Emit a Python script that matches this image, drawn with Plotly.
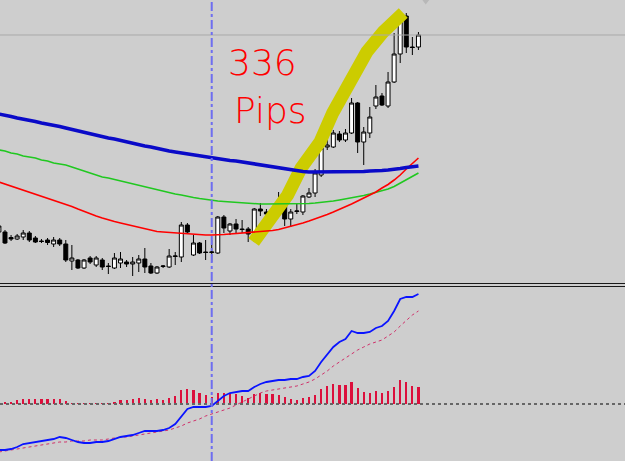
import plotly.graph_objects as go

# ---------------- data ----------------
# candle index -1 .. 68 ; price units: 1 unit ~ 1.5 pips
idx = list(range(-1, 69))

opens = [68, 68, 62.5, 61, 63, 67, 62, 59, 60, 56, 60, 56, 39, 40, 32, 42, 35, 40, 34, 32,
         37, 38, 36, 37, 41, 34, 27, 33.5, 33, 43.5, 43, 75, 45, 57, 48, 47.5, 47, 83, 69, 76,
         71, 71, 67, 91, 88, 86, 87, 95, 81, 88.5, 88, 103, 107, 125, 153, 153, 166, 160, 167, 197,
         158, 167, 194, 204, 194, 218, 246, 284, 253, 253]
closes = [74, 57, 61, 64, 67, 60, 58, 58.5, 57.5, 60, 56, 40, 42, 32, 40, 38, 42, 33, 33.5, 42,
          41, 36, 38, 41, 33, 27, 33, 34, 44, 44, 75, 68, 57, 47, 47.5, 48, 83, 72, 76, 71,
          70.5, 66, 91, 89, 86, 88, 96, 81, 88, 89, 104, 107, 127, 152, 155, 167, 160, 167, 197, 158,
          168, 183, 203, 195, 218, 246, 283, 253, 252.5, 265]
highs = [76, 70, 65, 66, 70, 69, 64, 61, 62, 63, 62, 60, 55, 41, 41, 44, 44, 42, 37, 47,
         48, 40, 43, 45, 52, 37, 34, 35, 51, 48, 78, 77, 65, 58, 60, 60, 84, 85, 77, 81,
         80, 73, 92, 97, 91, 90, 108, 108, 91, 97, 105, 112, 131, 154, 172, 170, 169, 171, 202, 198,
         173, 193, 215, 207, 228, 267, 288, 287, 263, 268]
lows = [66, 56, 59, 60, 60, 58, 57, 57, 55, 53, 54, 38, 30, 31, 31, 36, 33, 30, 26, 31,
        32, 33, 24, 28, 27, 26, 26, 32, 32, 35, 38, 67, 44, 46, 40, 38, 46, 67, 65, 67,
        67, 58, 58, 84, 83, 78, 85, 74, 73, 86, 85, 102, 103, 123, 150, 152, 158, 158, 166, 147,
        135, 162, 191, 194, 192, 217, 237, 247, 245, 250]

ma_blue = [186, 185, 183.5, 182, 181, 180, 178.5, 177, 176, 175, 173.5, 172, 170.5, 169, 167.5, 166,
           165, 163.5, 162, 161, 159.5, 158, 157, 155.5, 154, 153, 151.5, 150.5, 149, 148, 147, 146,
           145, 144, 143, 142.5, 141.5, 140.5, 139.5, 139, 138, 137, 136, 135, 134, 133, 132, 131,
           130, 129, 128.5, 128, 128, 128, 128, 128, 128, 128, 128, 128.5, 128.5, 129, 129, 129.5,
           130, 130.5, 131.5, 132.5, 133.5, 134]
ma_green = [150, 149, 147, 146, 144, 143, 142, 140, 139, 137, 136, 135, 133, 131, 129, 127, 125, 123,
            122, 120.5, 119, 117.5, 116, 115, 113.5, 112, 110.5, 109, 107.5, 106, 105, 103.5, 102.5,
            101.5, 100.5, 99.5, 99, 98.5, 98, 97.5, 97, 96.5, 96, 96, 96, 96, 96, 96, 96, 96, 96,
            96.5, 97, 97.5, 98, 99, 100, 101, 102, 103, 104.5, 106, 107.5, 109, 111, 113.5, 117, 120,
            123.5, 127]
ma_red = [118, 116, 114, 112, 110, 108, 106, 104, 102, 100, 98, 96, 93.5, 91, 88.5, 86, 84, 82, 80,
          78.5, 77, 75.5, 74, 72.5, 71, 69.5, 68.5, 68, 67.5, 67, 67, 66.5, 66, 65.5, 65, 65, 65,
          65.5, 66, 66.5, 67, 67, 67.5, 68, 68.5, 69.5, 70.5, 72, 74, 75.5, 77, 79, 81, 83, 85.5,
          88, 90.5, 93, 96, 99, 102, 105, 108, 112, 115.5, 120, 125, 131, 136.5, 142]

# lower indicator panel
osc_main = [-46, -46, -45, -43, -40, -39, -38, -37, -36, -35, -33, -34, -36, -38, -39, -39, -38, -38,
            -37, -35, -33, -32, -31, -29, -27, -27, -27, -26, -24, -20, -13, -5, -3, -3, -3, -2, 3,
            8, 11, 12, 13, 13, 17, 20, 22, 23, 24, 24, 25, 25, 27, 28, 33, 42, 50, 57, 62, 65, 73,
            71, 71, 72, 76, 78, 83, 93, 105, 107, 107, 110]
osc_signal = [-48, -47, -46, -45, -44, -43, -42, -41, -40, -39, -38, -38, -37, -37, -37, -36, -36,
              -36, -35, -34, -33, -33, -32, -31, -30, -29, -28, -27, -26, -24, -22, -19, -17, -15,
              -12, -10, -8, -6, -4, -1, 2, 5, 8, 11, 13, 14, 15, 16, 17, 18, 20, 22, 25, 29, 33,
              38, 42, 46, 50, 54, 57, 60, 62, 64, 68, 72, 78, 84, 89, 93]
osc_hist = [1, 1.5, 2.3, 4, 5, 5, 5, 5, 5, 5, 5, 3, 1, 1, 0.7, 1, 1, 1, 1, 2.5, 4, 4, 5, 6, 5, 4,
            5, 4, 6.5, 8, 14, 15, 14, 11, 9, 7.5, 11.5, 11.5, 11, 10, 8, 6.5, 10, 11, 10, 10, 9,
            7.5, 5, 4.5, 6, 6.7, 9.5, 15, 18, 20, 19.3, 19, 21.7, 16, 11.7, 11, 12.7, 11, 12.7,
            17.3, 24, 22, 18.3, 16.7]

# chart drawings
marker_bar = 34          # vertical dash-dot line
level_price = 265        # thin grey horizontal level
highlight_x = [40.9, 43.6, 46.5, 48.7, 51.8, 53.9, 56.7, 59.5, 62.2, 64.1, 65.5]
highlight_y = [58, 82, 105, 132, 158, 187, 220, 248, 268, 280, 287]
label_lines = ["336", "Pips"]

# ---------------- figure ----------------
BG = "#cecece"
fig = go.Figure()

fig.add_trace(go.Scatter(x=highlight_x, y=highlight_y, mode="lines",
                         line=dict(color="#cccc00", width=13),
                         xaxis="x", yaxis="y", hoverinfo="skip"))

fig.add_trace(go.Candlestick(
    x=idx, open=opens, high=highs, low=lows, close=closes,
    increasing=dict(line=dict(color="black", width=1), fillcolor="white"),
    decreasing=dict(line=dict(color="black", width=1), fillcolor="black"),
    whiskerwidth=0, xaxis="x", yaxis="y"))

fig.add_trace(go.Scatter(x=idx, y=ma_green, mode="lines",
                         line=dict(color="#20c820", width=1.6), xaxis="x", yaxis="y"))
fig.add_trace(go.Scatter(x=idx, y=ma_red, mode="lines",
                         line=dict(color="#ff0000", width=1.6), xaxis="x", yaxis="y"))
fig.add_trace(go.Scatter(x=idx, y=ma_blue, mode="lines",
                         line=dict(color="#0a0ac8", width=3.6), xaxis="x", yaxis="y"))

fig.add_trace(go.Bar(x=idx, y=osc_hist, width=0.36, marker=dict(color="#dc0f3c", line=dict(width=0)),
                     xaxis="x", yaxis="y2"))
fig.add_trace(go.Scatter(x=idx, y=osc_signal, mode="lines",
                         line=dict(color="#d0306a", width=1, dash="dot"), xaxis="x", yaxis="y2"))
fig.add_trace(go.Scatter(x=idx, y=osc_main, mode="lines",
                         line=dict(color="#0a14ff", width=1.8), xaxis="x", yaxis="y2"))

# chart-shift triangle at the top
fig.add_trace(go.Scatter(x=[69.2], y=[300], mode="markers",
                         marker=dict(symbol="triangle-down", size=9, color="#b8b8b8"),
                         xaxis="x", yaxis="y", cliponaxis=False))

shapes = [
    # zero line of the oscillator
    dict(type="line", xref="paper", x0=0, x1=1, yref="y2", y0=0, y1=0,
         line=dict(color="#666666", width=2, dash="dot")),
    # horizontal level
    dict(type="line", xref="paper", x0=0, x1=1, yref="y", y0=level_price, y1=level_price,
         line=dict(color="#a9a9a9", width=1)),
    # separator between panels
    dict(type="line", xref="paper", x0=0, x1=1, yref="paper", y0=1 - 283.5 / 461, y1=1 - 283.5 / 461,
         line=dict(color="#1a1a1a", width=1)),
    dict(type="line", xref="paper", x0=0, x1=1, yref="paper", y0=1 - 286.5 / 461, y1=1 - 286.5 / 461,
         line=dict(color="#1a1a1a", width=1)),
    # vertical dash-dot line
    dict(type="line", xref="x", x0=marker_bar, x1=marker_bar, yref="paper", y0=0, y1=1,
         line=dict(color="#6e6ef0", width=2, dash="dashdot")),
]

annotations = [
    dict(x=42.3, y=238, xref="x", yref="y", text=label_lines[0], showarrow=False,
         font=dict(family="DejaVu Sans", size=36, color="#ff0000", weight=300)),
    dict(x=43.6, y=190, xref="x", yref="y", text=label_lines[1], showarrow=False,
         font=dict(family="DejaVu Sans", size=36, color="#ff0000", weight=300)),
]

fig.update_layout(
    width=625, height=461, autosize=False,
    margin=dict(l=0, r=0, t=0, b=0, pad=0),
    paper_bgcolor=BG, plot_bgcolor=BG,
    showlegend=False,
    boxgap=0.35, boxgroupgap=0,
    xaxis=dict(range=[-0.82, 101.97], visible=False, showgrid=False, zeroline=False,
               rangeslider=dict(visible=False), fixedrange=True),
    yaxis=dict(domain=[1 - 282 / 461, 1], range=[18, 300], visible=False, showgrid=False,
               zeroline=False),
    yaxis2=dict(domain=[0, 1 - 287 / 461], range=[-57, 117], visible=False, showgrid=False,
                zeroline=False),
    shapes=shapes, annotations=annotations,
    bargap=0,
)

fig.write_html("out.html")
